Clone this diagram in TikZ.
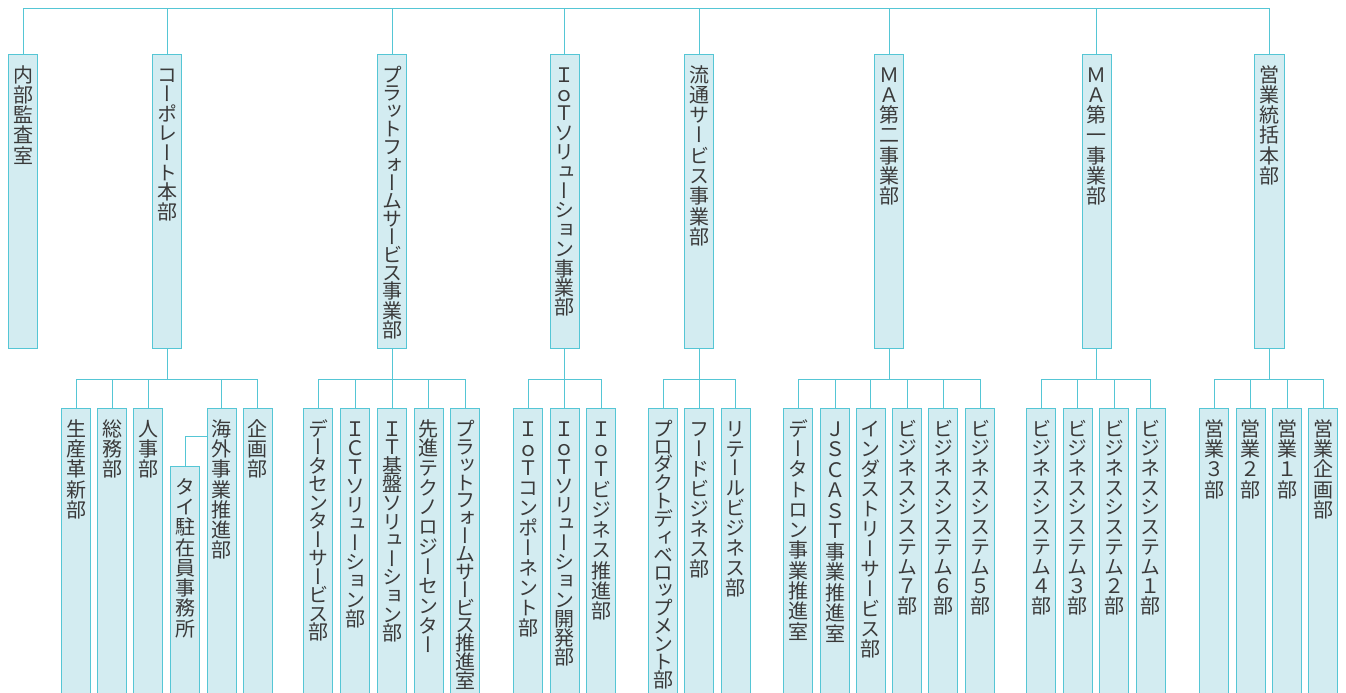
\documentclass[tikz,border=0pt]{standalone}
\usepackage{fontspec}
\newfontfamily\jpfont[RawFeature=+vert]{Noto Sans CJK JP}
\definecolor{linec}{HTML}{55C6D5}
\definecolor{boxc}{HTML}{D3ECF1}
\definecolor{txtc}{HTML}{3A3A3A}
\makeatletter
\newcommand\tate[2][20.3pt]{\vtop{\offinterlineskip
  \@tfor\tate@c:=#2\do{\hbox to 1em{\vrule height .88em depth \dimexpr#1-.88em\relax width 0pt\hss\tate@c\hss}}}}
\makeatother

\begin{document}
\begin{tikzpicture}[x=1pt,y=-1pt]
\tikzset{
  link/.style={draw=linec, line width=1pt},
  dept/.style={draw=linec, line width=1pt, fill=boxc, text=txtc, anchor=north,
    minimum width=29.3pt, inner sep=0pt, text height=27.6pt,
    font=\jpfont\fontsize{20pt}{20pt}\selectfont},
  headbox/.style={dept, text depth=266.4pt},
  unitbox/.style={dept, text depth=258.4pt}
}
\useasboundingbox (0,0) rectangle (1346,693);

\node[headbox] (A) at (23,54) {\tate{内部監査室}};
\node[headbox] (B) at (167,54) {\tate[19.6pt]{コーポレート本部}};
\node[headbox] (C) at (392,54) {\tate[18pt]{プラットフォームサービス事業部}};
\node[headbox] (D) at (564.7,54) {\tate[19.4pt]{ＩｏＴソリューション事業部}};
\node[headbox] (E) at (699.3,54) {\tate{流通サービス事業部}};
\node[headbox] (F) at (889.3,54) {\tate{ＭＡ第二事業部}};
\node[headbox] (G) at (1096.7,54) {\tate{ＭＡ第一事業部}};
\node[headbox] (H) at (1269.5,54) {\tate{営業統括本部}};

\node[unitbox] (B1) at (76,408) {\tate{生産革新部}};
\node[unitbox] (B2) at (112.3,408) {\tate{総務部}};
\node[unitbox] (B3) at (148.3,408) {\tate{人事部}};
\node[unitbox, text depth=200.4pt] (B4a) at (185,466) {\tate{タイ駐在員事務所}};
\node[unitbox] (B4) at (221.7,408) {\tate{海外事業推進部}};
\node[unitbox] (B5) at (257.7,408) {\tate{企画部}};

\node[unitbox] (C1) at (318,408) {\tate[18.5pt]{データセンターサービス部}};
\node[unitbox] (C2) at (355,408) {\tate[19pt]{ＩＣＴソリューション部}};
\node[unitbox] (C3) at (392,408) {\tate[18.6pt]{ＩＴ基盤ソリューション部}};
\node[unitbox] (C4) at (428.7,408) {\tate[19.7pt]{先進テクノロジーセンター}};
\node[unitbox] (C5) at (465,408) {\tate[17.4pt]{プラットフォームサービス推進室}};

\node[unitbox] (D1) at (528,408) {\tate[19.9pt]{ＩｏＴコンポーネント部}};
\node[unitbox] (D2) at (564.7,408) {\tate[19pt]{ＩｏＴソリューション開発部}};
\node[unitbox] (D3) at (601,408) {\tate{ＩｏＴビジネス推進部}};

\node[unitbox] (E1) at (663,408) {\tate[17.4pt]{プロダクトディベロップメント部}};
\node[unitbox] (E2) at (699.3,408) {\tate[20pt]{フードビジネス部}};
\node[unitbox] (E3) at (735.7,408) {\tate[19.9pt]{リテールビジネス部}};

\node[unitbox] (F1) at (798,408) {\tate{データトロン事業推進室}};
\node[unitbox] (F2) at (835,408) {\tate[20.5pt]{ＪＳＣＡＳＴ事業推進室}};
\node[unitbox] (F3) at (870.7,408) {\tate[20pt]{インダストリーサービス部}};
\node[unitbox] (F4) at (907.3,408) {\tate[19.7pt]{ビジネスシステム７部}};
\node[unitbox] (F5) at (943.3,408) {\tate[19.7pt]{ビジネスシステム６部}};
\node[unitbox] (F6) at (980,408) {\tate[19.7pt]{ビジネスシステム５部}};

\node[unitbox] (G1) at (1041.3,408) {\tate[19.7pt]{ビジネスシステム４部}};
\node[unitbox] (G2) at (1077.7,408) {\tate[19.7pt]{ビジネスシステム３部}};
\node[unitbox] (G3) at (1114,408) {\tate[19.7pt]{ビジネスシステム２部}};
\node[unitbox] (G4) at (1150.7,408) {\tate[19.7pt]{ビジネスシステム１部}};

\node[unitbox] (H1) at (1214,408) {\tate{営業３部}};
\node[unitbox] (H2) at (1250.7,408) {\tate{営業２部}};
\node[unitbox] (H3) at (1287,408) {\tate{営業１部}};
\node[unitbox] (H4) at (1323.3,408) {\tate{営業企画部}};

\coordinate (bus) at (0,9);
\draw[link] (A.north) |- (bus -| H.north) -- (H.north);
\foreach \n in {B,...,G} \draw[link] (\n.north) -- (\n.north |- bus);

\foreach \p/\m in {B/5, C/5, D/3, E/3, F/6, G/4, H/4} {
  \draw[link] (\p.south) -- ++(0,30) coordinate (\p-bus);
  \draw[link] (\p1.north |- \p-bus) -- (\p\m.north |- \p-bus);
  \foreach \k in {1,...,\m} \draw[link] (\p\k.north) -- (\p\k.north |- \p-bus);
}
\draw[link] ([yshift=-28pt]B4.north west) -| (B4a.north);
\end{tikzpicture}
\end{document}
